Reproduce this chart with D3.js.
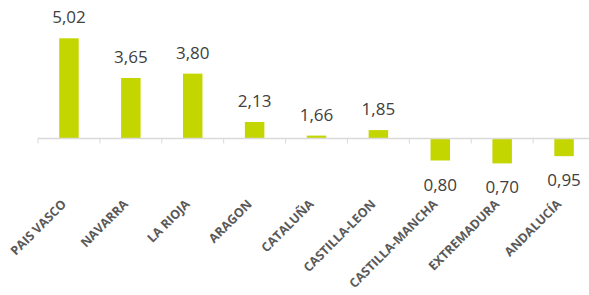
<!DOCTYPE html>
<html>
<head>
<meta charset="utf-8">
<script src="https://cdn.jsdelivr.net/npm/d3@7"></script>
<style>
  body { margin: 0; background: #fff; }
  svg { display: block; font-family: "Open Sans", sans-serif; }
</style>
</head>
<body>
<div id="chart"></div>
<script>
// regions and their values
var regions = ["PAIS VASCO", "NAVARRA", "LA RIOJA", "ARAGON", "CATALUÑA",
               "CASTILLA-LEON", "CASTILLA-MANCHA", "EXTREMADURA", "ANDALUCÍA"];
var values = [5.02, 3.65, 3.80, 2.13, 1.66, 1.85, 0.80, 0.70, 0.95];
var baseline = 1.56; // bars cross the axis here

var width = 589, height = 295;

var svg = d3.select("#chart").append("svg")
    .attr("width", width)
    .attr("height", height);

var x = d3.scaleBand()
    .domain(regions)
    .range([38, 595])
    .paddingInner(0.685)
    .paddingOuter(0.3425);

var y = d3.scaleLinear()
    .domain([baseline, 5.02])
    .range([138.5, 38.3]);

var fmt = function(v) { return d3.format(".2f")(v).replace(".", ","); };

// bars
svg.append("g")
  .selectAll("rect")
  .data(values)
  .enter()
  .append("rect")
    .attr("x", function(d, i) { return x(regions[i]); })
    .attr("width", x.bandwidth())
    .attr("y", function(d) { return Math.min(y(d), y(baseline)); })
    .attr("height", function(d) { return Math.abs(y(d) - y(baseline)); })
    .attr("fill", "#c4d600");

// axis line + ticks between categories
var step = x.step();
var x0 = x.range()[0];
svg.append("line")
    .attr("x1", x0).attr("x2", width)
    .attr("y1", y(baseline)).attr("y2", y(baseline))
    .attr("stroke", "#d9d9d9").attr("stroke-width", 1.5);

svg.append("g")
  .selectAll("line")
  .data(d3.range(regions.length + 1))
  .enter()
  .append("line")
    .attr("x1", function(i) { return x0 + i * step; })
    .attr("x2", function(i) { return x0 + i * step; })
    .attr("y1", y(baseline))
    .attr("y2", y(baseline) + 5)
    .attr("stroke", "#d9d9d9").attr("stroke-width", 1);

// value labels
svg.append("g")
  .selectAll("text")
  .data(values)
  .enter()
  .append("text")
    .attr("x", function(d, i) { return x(regions[i]) + x.bandwidth() / 2; })
    .attr("y", function(d) { return d >= baseline ? y(d) - 15 : y(d) + 30; })
    .attr("text-anchor", "middle")
    .attr("font-size", 17)
    .attr("fill", "#404040")
    .text(fmt);

// category labels, rotated
svg.append("g")
  .selectAll("text")
  .data(regions)
  .enter()
  .append("text")
    .attr("transform", function(d) {
        return "translate(" + (x(d) + x.bandwidth() / 2 - 2) + ",205) rotate(-45)";
    })
    .attr("text-anchor", "end")
    .attr("font-size", 12.5)
    .attr("font-weight", "bold")
    .attr("fill", "#595959")
    .text(function(d) { return d; });
</script>
</body>
</html>
